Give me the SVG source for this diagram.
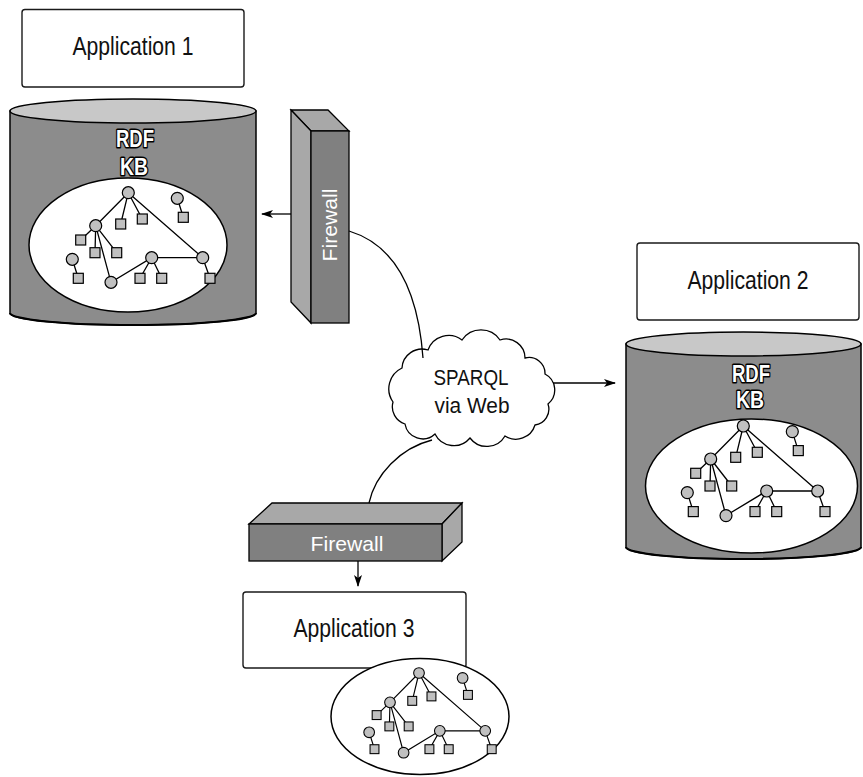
<svg xmlns="http://www.w3.org/2000/svg" xmlns:xlink="http://www.w3.org/1999/xlink" width="863" height="777" viewBox="0 0 863 777">
<style>
.box{fill:#fff;stroke:#1a1a1a;stroke-width:1.4}
.lbl{font-family:"Liberation Sans Narrow","Liberation Sans",Arial,sans-serif;font-size:25px;fill:#111;text-anchor:middle}
.kb{font-family:"Liberation Sans Narrow","Liberation Sans",Arial,sans-serif;font-weight:bold;font-size:24px;fill:#fff;stroke:#000;stroke-width:3;paint-order:stroke;stroke-linejoin:round;text-anchor:middle}
.body{fill:#8c8c8c;stroke:#000;stroke-width:1.5}
.lid{fill:#c8c8c8;stroke:#000;stroke-width:1.5}
.oval{fill:#fff;stroke:#000;stroke-width:1.5}
.e{stroke:#000;stroke-width:1.3;fill:none}
.n{fill:#c0c0c0;stroke:#000;stroke-width:1.2}
.fwf{fill:#808080;stroke:#000;stroke-width:1.3}
.fws{fill:#a8a8a8;stroke:#000;stroke-width:1.3}
.fwt{font-family:"Liberation Sans",Arial,sans-serif;font-size:21px;fill:#fff;text-anchor:middle}
.conn{fill:none;stroke:#000;stroke-width:1.3}
</style>
<defs>
<marker id="arr" viewBox="0 0 12 8" refX="11" refY="4" markerWidth="12" markerHeight="8" markerUnits="userSpaceOnUse" orient="auto">
<path d="M0,0 L12,4 L0,8 L3,4 Z" fill="#000"/>
</marker>
<g id="graph">
<path class="e" d="M0,0 L-32.6,33 M0,0 L-7.6,31.3 M0,0 L14,26.3 M0,0 L74.4,65 M-32.6,33 L-47.6,47.3 M-32.6,33 L-33.3,60 M-32.6,33 L-11.6,60 M-32.6,33 L-17.3,89.6 L23.4,65 L74.4,65 M23.4,65 L11.7,85.6 M23.4,65 L33.4,85.6 M74.4,65 L81.7,85.6 M-56,66.6 L-50,85.6 M49,5.6 L55,24.6"/>
<rect class="n" x="-12.6" y="26.3" width="10" height="10"/>
<rect class="n" x="9" y="21.3" width="10" height="10"/>
<rect class="n" x="-52.6" y="42.3" width="10" height="10"/>
<rect class="n" x="-38.3" y="55" width="10" height="10"/>
<rect class="n" x="-16.6" y="55" width="10" height="10"/>
<rect class="n" x="-55" y="80.6" width="10" height="10"/>
<rect class="n" x="6.7" y="80.6" width="10" height="10"/>
<rect class="n" x="28.4" y="80.6" width="10" height="10"/>
<rect class="n" x="76.7" y="80.6" width="10" height="10"/>
<rect class="n" x="50" y="19.6" width="10" height="10"/>
<circle class="n" cx="0" cy="0" r="6"/>
<circle class="n" cx="49" cy="5.6" r="6"/>
<circle class="n" cx="-32.6" cy="33" r="6"/>
<circle class="n" cx="-56" cy="66.6" r="6"/>
<circle class="n" cx="-17.3" cy="89.6" r="6"/>
<circle class="n" cx="23.4" cy="65" r="6"/>
<circle class="n" cx="74.4" cy="65" r="6"/>
</g>
</defs>

<g id="app1">
<rect class="box" x="22" y="9.5" width="222" height="77.5" rx="3"/>
<text class="lbl" x="133" y="55" textLength="121" lengthAdjust="spacingAndGlyphs">Application 1</text>
</g>

<g id="kb1">
<path class="body" d="M10,111 L10,313 A123,12 0 0 0 256,313 L256,111 Z"/>
<path fill="none" stroke="#000" stroke-width="2.2" d="M10,313 A123,12 0 0 0 256,313"/>
<ellipse class="lid" cx="133" cy="111" rx="123" ry="12"/>
<text class="kb" x="135" y="147" textLength="38" lengthAdjust="spacingAndGlyphs">RDF</text>
<text class="kb" x="134" y="175" textLength="28" lengthAdjust="spacingAndGlyphs">KB</text>
<ellipse class="oval" cx="128" cy="245" rx="99" ry="67"/>
<use xlink:href="#graph" transform="translate(128.3,192.7)"/>
</g>

<g id="firewall1">
<polygon class="fws" points="291,110 328,110 349,131 311,131"/>
<polygon class="fws" points="291,110 311,131 311,323 291,302"/>
<rect class="fwf" x="311" y="131" width="38" height="192"/>
<text class="fwt" transform="translate(337,225) rotate(-90)" textLength="73" lengthAdjust="spacingAndGlyphs">Firewall</text>
</g>

<g id="app2">
<rect class="box" x="637" y="243" width="222" height="77" rx="3"/>
<text class="lbl" x="748" y="289" textLength="121" lengthAdjust="spacingAndGlyphs">Application 2</text>
</g>

<g id="kb2">
<path class="body" d="M626,344 L626,547 A117.5,12 0 0 0 861,547 L861,344 Z"/>
<path fill="none" stroke="#000" stroke-width="2.2" d="M626,547 A117.5,12 0 0 0 861,547"/>
<ellipse class="lid" cx="743.5" cy="344" rx="117.5" ry="12"/>
<text class="kb" x="751" y="382" textLength="38" lengthAdjust="spacingAndGlyphs">RDF</text>
<text class="kb" x="750" y="408" textLength="28" lengthAdjust="spacingAndGlyphs">KB</text>
<ellipse class="oval" cx="751.5" cy="486" rx="106" ry="67"/>
<use xlink:href="#graph" transform="translate(743.3,426)"/>
</g>

<g id="cloud">
<path fill="#fff" stroke="#000" stroke-width="1.3" d="M393,402 A23,23 0 0 1 402,368 A20,20 0 0 1 428,350 A22,22 0 0 1 462,340 A23,23 0 0 1 500,340 A19,19 0 0 1 525,358 A16,16 0 0 1 545,374 A18,18 0 0 1 548,404 A16,16 0 0 1 535,425 A20,20 0 0 1 505,436 A21,21 0 0 1 470,438 A21,21 0 0 1 435,434 A18,18 0 0 1 405,424 A18,18 0 0 1 393,402 Z"/>
<text class="lbl" x="471" y="385" style="font-size:22px" textLength="75" lengthAdjust="spacingAndGlyphs">SPARQL</text>
<text class="lbl" x="472" y="413" style="font-size:22px" textLength="75" lengthAdjust="spacingAndGlyphs">via Web</text>
</g>

<g id="firewall2">
<polygon class="fws" points="249,524 272,503 462,503 442,524"/>
<polygon class="fws" points="442,524 462,503 462,542 442,561"/>
<rect class="fwf" x="249" y="524" width="193" height="37"/>
<text class="fwt" x="347" y="550.5" textLength="73" lengthAdjust="spacingAndGlyphs">Firewall</text>
</g>

<g id="app3">
<rect class="box" x="243" y="592" width="223" height="76" rx="3"/>
<text class="lbl" x="354" y="637" textLength="121" lengthAdjust="spacingAndGlyphs">Application 3</text>
</g>

<g id="kb3">
<ellipse class="oval" cx="420" cy="716.5" rx="89" ry="58"/>
<use xlink:href="#graph" transform="translate(419,673) scale(0.89)"/>
</g>

<g id="connectors">
<line class="conn" x1="291" y1="214" x2="262" y2="214" marker-end="url(#arr)"/>
<path class="conn" d="M349,231 C395,245 418,290 423,358"/>
<line class="conn" x1="553" y1="383" x2="615" y2="383" marker-end="url(#arr)"/>
<path class="conn" d="M432,440 C400,448 375,475 369,503"/>
<line class="conn" x1="358" y1="561" x2="358" y2="586" marker-end="url(#arr)"/>
</g>
</svg>
